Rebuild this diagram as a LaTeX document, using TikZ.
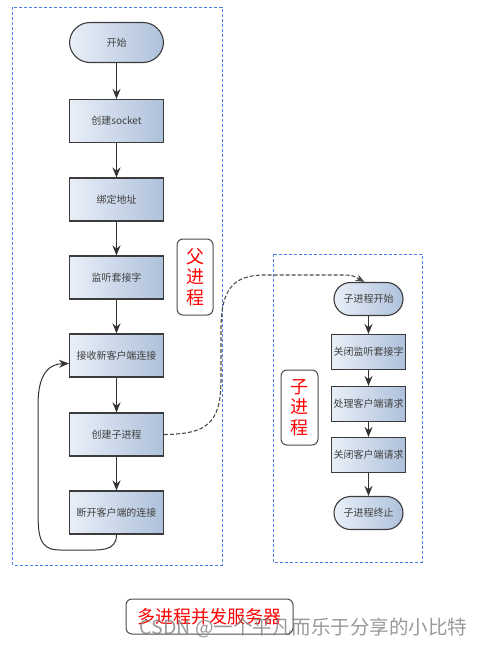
\documentclass[tikz,border=0pt]{standalone}
\usepackage{fontspec}
\usepackage{tikz}
\usetikzlibrary{arrows.meta}
\newfontfamily\cjk{Noto Sans CJK SC}
\definecolor{boxleft}{HTML}{E9EFF8}
\definecolor{boxright}{HTML}{AEC1DB}
\definecolor{edgegray}{HTML}{3C3C3C}
\definecolor{zoneblue}{HTML}{4C80EC}

\begin{document}
\begin{tikzpicture}[x=1pt,y=-1pt,
    stepbox/.style={draw=edgegray,line width=1.1pt,left color=boxleft,right color=boxright,
        minimum width=94,minimum height=43,inner sep=1pt,text=black!75,
        font=\cjk\fontsize{10}{12}\selectfont},
    termbox/.style={stepbox,rounded corners=20.5,minimum height=40},
    childbox/.style={stepbox,minimum width=74,minimum height=35},
    childterm/.style={childbox,rounded corners=16.5,minimum width=69,minimum height=33},
    zone/.style={draw=zoneblue,line width=0.8pt,dash pattern=on 3pt off 2pt},
    tagbox/.style={draw=black!70,line width=1pt,rounded corners=6,fill=white,text=red,
        align=center,font=\cjk\fontsize{18}{20.5}\selectfont},
    flow/.style={draw=black!80,line width=1.2pt,-{Stealth[length=10pt,width=8pt]}},
    spawn/.style={draw=black!70,line width=1.1pt,dash pattern=on 4pt off 2pt,
        -{Stealth[length=9pt,width=7pt]}}]
    \useasboundingbox (0,0) rectangle (486,646);
    %%% PARENT PROCESS %%%
    % dashed zone %
    \draw[zone] (12.7,7) rectangle (222,565);
    \node[tagbox,minimum width=36,minimum height=76] (ptag) at (195,277){父\\进\\程};
    % steps %
    \node[termbox] (start) at (116.5,42.5){开始};
    \node[stepbox] (socket) at (116.5,121){创建socket};
    \node[stepbox] (bind) at (116.5,199.5){绑定地址};
    \node[stepbox] (listen) at (116.5,277.5){监听套接字};
    \node[stepbox] (accept) at (116.5,355.5){接收新客户端连接};
    \node[stepbox] (fork) at (116.5,434.5){创建子进程};
    \node[stepbox] (close) at (116.5,512.5){断开客户端的连接};
    % arrows %
    \draw[flow] (start)--(socket);
    \draw[flow] (socket)--(bind);
    \draw[flow] (bind)--(listen);
    \draw[flow] (listen)--(accept);
    \draw[flow] (accept)--(fork);
    \draw[flow] (fork)--(close);
    \draw[flow,line width=1pt] (close.south) .. controls (116.5,552) and (100,550) .. (80,550)
        -- (60,550) .. controls (38,550) and (38,535) .. (38,505) -- (38,405)
        .. controls (38,372) and (50,364) .. ([yshift=-8pt]accept.west);
    %%% CHILD PROCESS %%%
    % dashed zone %
    \draw[zone] (273,254) rectangle (422,562);
    \node[tagbox,minimum width=37,minimum height=75] (ctag) at (299.5,407.5){子\\进\\程};
    % steps %
    \node[childterm] (cstart) at (368.5,299){子进程开始};
    \node[childbox] (cclose) at (368.5,352){关闭监听套接字};
    \node[childbox] (serve) at (368.5,404){处理客户端请求};
    \node[childbox] (cend) at (368.5,455){关闭客户端请求};
    \node[childterm] (cstop) at (368.5,513){子进程终止};
    % arrows %
    \draw[flow] (cstart)--(cclose);
    \draw[flow] (cclose)--(serve);
    \draw[flow] (serve)--(cend);
    \draw[flow] (cend)--(cstop);
    % fork link %
    \draw[spawn] (fork.east) .. controls (205,434) and (221,425) .. (221,380)
        -- (221,330) .. controls (221,290) and (232,275) .. (265,275)
        -- (340,275) .. controls (352,275) .. ([xshift=-4pt]cstart.north);
    %%% TITLE %%%
    \node[tagbox,minimum width=167,minimum height=35] (title) at (209.5,616.5){多进程并发服务器};
    \node[text=black!50,opacity=0.8,font=\cjk\fontsize{19.5}{22}\selectfont] (mark) at (303.5,628){CSDN @一个平凡而乐于分享的小比特};
\end{tikzpicture}
\end{document}
